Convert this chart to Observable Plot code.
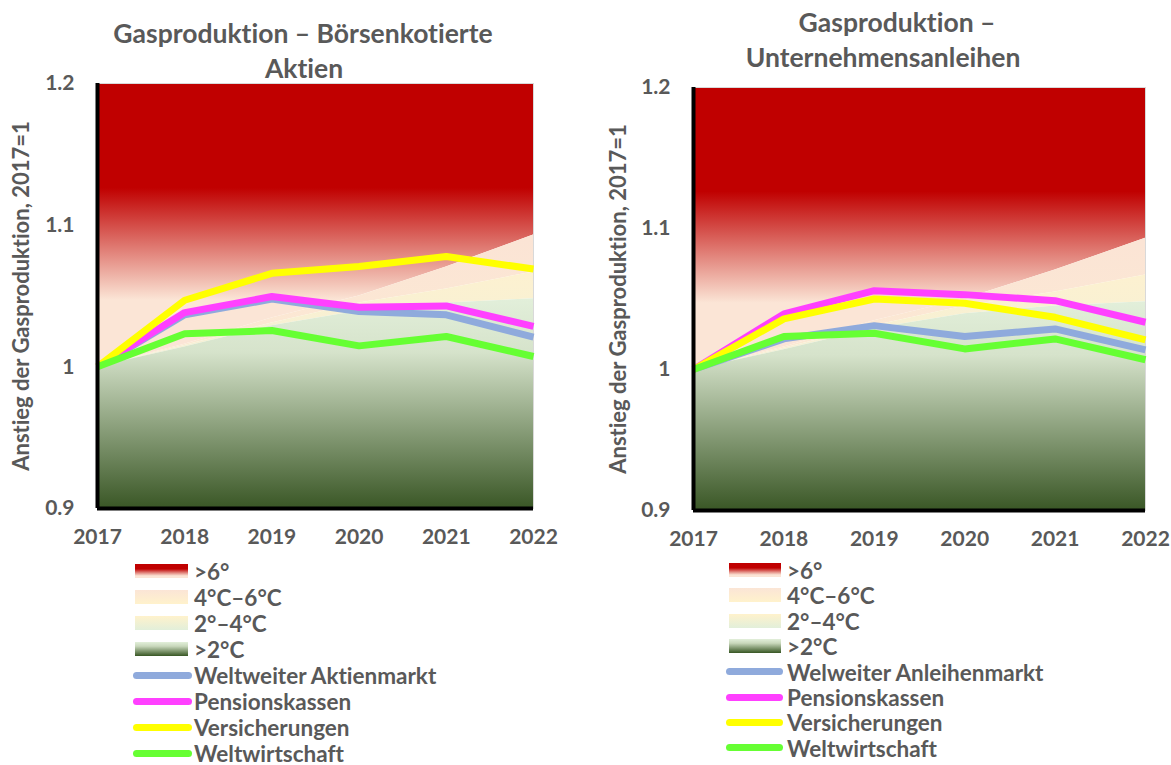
<!DOCTYPE html>
<html><head><meta charset="utf-8">
<script src="https://cdn.jsdelivr.net/npm/d3@7"></script>
<script src="https://cdn.jsdelivr.net/npm/@observablehq/plot@0.6"></script>
<style>
body{margin:0;width:1171px;height:765px;overflow:hidden;background:#fff;font-family:Lato,sans-serif;font-weight:700;color:#595959;position:relative;font-variant-ligatures:none}
svg{font-variant-ligatures:none}
.tl{position:absolute;white-space:nowrap;font-size:26.5px;line-height:30px;transform:translate(-50%,-50%)}
.chart{position:absolute}
.row{position:absolute;white-space:nowrap;font-size:22.5px;line-height:21px;transform:translateY(-50%)}
.sw{position:absolute}
</style></head><body>
<div id="root"></div>
<script>
// ---------- data ----------
const years = [2017, 2018, 2019, 2020, 2021, 2022];
const yDomain = [0.9, 1.2];
const yTicks = [0.9, 1.0, 1.1, 1.2];
const yTickLabels = ["0.9", "1", "1.1", "1.2"];
const yLabel = "Anstieg der Gasproduktion, 2017=1";

// scenario band upper bounds
const band2C = [1, 1.014, 1.029, 1.0395, 1.045, 1.048];
const band4C = [1, 1.015, 1.031, 1.045, 1.055, 1.067];
const band6C = [1, 1.016, 1.0345, 1.050, 1.0705, 1.093];
const bandLabels = [">6°", "4°C–6°C", "2°–4°C", ">2°C"];

const seriesColors = ["#8FAADC", "#FF40FF", "#FFFF00", "#66FF33"];

// left chart: Börsenkotierte Aktien
const leftTitle = ["Gasproduktion – Börsenkotierte", "Aktien"];
const leftNames = ["Weltweiter Aktienmarkt", "Pensionskassen", "Versicherungen", "Weltwirtschaft"];
const leftMarkt   = [1, 1.0367, 1.0478, 1.039, 1.0367, 1.021];
const leftPension = [1, 1.0383, 1.0496, 1.042, 1.043, 1.0285];
const leftVersich = [1, 1.047, 1.066, 1.0708, 1.0779, 1.069];
const leftWelt    = [1, 1.0233, 1.0256, 1.0148, 1.0214, 1.0073];

// right chart: Unternehmensanleihen
const rightTitle = ["Gasproduktion –", "Unternehmensanleihen"];
const rightNames = ["Welweiter Anleihenmarkt", "Pensionskassen", "Versicherungen", "Weltwirtschaft"];
const rightMarkt   = [1, 1.0217, 1.0311, 1.0234, 1.0288, 1.0139];
const rightPension = [1, 1.0394, 1.0559, 1.0531, 1.0488, 1.0335];
const rightVersich = [1, 1.0359, 1.050, 1.047, 1.037, 1.021];
const rightWelt    = [1, 1.0234, 1.0257, 1.0146, 1.0217, 1.0069];

// ---------- build ----------
const bandTable = years.map((year, i) => ({year, c2: band2C[i], c4: band4C[i], c6: band6C[i], lo: yDomain[0], hi: yDomain[1]}));

function longTable(names, arrays) {
  const out = [];
  names.forEach((name, s) => years.forEach((year, i) => out.push({name, year, value: arrays[s][i]})));
  return out;
}

const NS = "http://www.w3.org/2000/svg";
function gradientDefs(prefix) {
  return (index, scales) => {
    const defs = document.createElementNS(NS, "defs");
    const y = scales.y;
    const specs = {
      red: [[1.2, "#C00000"], [1.126, "#C00000"], [1.047, "#FBE5D6"], [0.9, "#FBE5D6"]],
      b46: [[1.09, "#FBE4D5"], [1.0, "#FCEAD3"]],
      b24: [[1.07, "#FDF1D0"], [1.0, "#F3F0D6"]],
      green: [[1.2, "#E2EFDA"], [1.048, "#E2EFDA"], [1.01, "#D6E3CB"], [0.9, "#3A5726"]]
    };
    const y0 = y(1.2), y1 = y(0.9);
    for (const [k, stops] of Object.entries(specs)) {
      const g = document.createElementNS(NS, "linearGradient");
      g.setAttribute("id", prefix + k);
      g.setAttribute("gradientUnits", "userSpaceOnUse");
      g.setAttribute("x1", 0); g.setAttribute("x2", 0);
      g.setAttribute("y1", y0); g.setAttribute("y2", y1);
      for (const [v, c] of stops) {
        const s = document.createElementNS(NS, "stop");
        s.setAttribute("offset", (y(v) - y0) / (y1 - y0));
        s.setAttribute("stop-color", c);
        g.appendChild(s);
      }
      defs.appendChild(g);
    }
    return defs;
  };
}

function makeChart(cfg) {
  const table = longTable(cfg.names, cfg.series);
  const chart = Plot.plot({
    width: cfg.width, height: cfg.height,
    marginLeft: cfg.ml, marginRight: cfg.mr, marginTop: cfg.mt, marginBottom: cfg.mb,
    style: {fontFamily: "Lato, sans-serif", fontWeight: 700, color: "#595959", background: "transparent", overflow: "visible"},
    x: {domain: [years[0], years[years.length - 1]]},
    y: {domain: yDomain},
    color: {domain: cfg.names, range: seriesColors},
    marks: [
      gradientDefs(cfg.id),
      Plot.areaY(bandTable, {x: "year", y1: "c6", y2: "hi", fill: `url(#${cfg.id}red)`}),
      Plot.areaY(bandTable, {x: "year", y1: "c4", y2: "c6", fill: `url(#${cfg.id}b46)`}),
      Plot.areaY(bandTable, {x: "year", y1: "c2", y2: "c4", fill: `url(#${cfg.id}b24)`}),
      Plot.areaY(bandTable, {x: "year", y1: "lo", y2: "c2", fill: `url(#${cfg.id}green)`}),
      Plot.frame({stroke: "#D9D9D9", strokeWidth: 1}),
      Plot.line(table, {x: "year", y: "value", z: "name", stroke: "name", strokeWidth: 7, strokeLinejoin: "round", strokeLinecap: "butt"}),
      Plot.ruleX([years[0]], {stroke: "#000", strokeWidth: 4, y1: yDomain[0], y2: yDomain[1]}),
      Plot.ruleY([yDomain[0]], {stroke: "#000", strokeWidth: 4, x1: years[0], x2: years[years.length - 1]}),
      Plot.axisX({ticks: years, tickFormat: d => String(d), tickSize: 0, tickPadding: cfg.xpad, fontSize: 21, fill: "#595959", label: null}),
      Plot.axisY({ticks: yTicks, tickFormat: (d, i) => yTickLabels[i], tickSize: 0, tickPadding: cfg.ypad, fontSize: 21, fill: "#595959",
                  label: yLabel, labelAnchor: "center", labelArrow: "none", labelOffset: cfg.labelOffset})
    ]
  });
  chart.classList.add("chart");
  chart.style.left = cfg.left + "px";
  chart.style.top = cfg.top + "px";
  chart.querySelectorAll("[aria-label='y-axis label'] text, [aria-label='y-axis label']").forEach(e => e.setAttribute("font-size", 22));
  return chart;
}

const root = document.getElementById("root");

function addTitle(lines, centers, ys) {
  lines.forEach((t, i) => {
    const d = document.createElement("div");
    d.className = "tl"; d.textContent = t;
    d.style.left = centers[i] + "px"; d.style.top = ys[i] + "px";
    root.appendChild(d);
  });
}

function addLegend(names, lg) {
  const swatchGrads = [
    "linear-gradient(#C00000 0%, #C00000 35%, #E48F86 65%, #FBE5D6 85%, #FBE5D6 100%)",
    "linear-gradient(#FBE5D6, #FFF2CC)",
    "linear-gradient(#FFF2CC, #E2EFDA)",
    "linear-gradient(#E2EFDA 0%, #C9D8BC 30%, #375623 100%)"
  ];
  const labels = bandLabels.concat(names);
  labels.forEach((t, i) => {
    const cy = lg.y0 + i * lg.dy;
    const sw = document.createElement("div");
    sw.className = "sw";
    if (i < 4) {
      sw.style.cssText = `left:${lg.rx}px;top:${cy - 7}px;width:${lg.rw}px;height:14px;background:${swatchGrads[i]}`;
    } else {
      sw.style.cssText = `left:${lg.lx}px;top:${cy - 3.5}px;width:${lg.lw}px;height:7px;border-radius:4px;background:${seriesColors[i - 4]}`;
    }
    root.appendChild(sw);
    const d = document.createElement("div");
    d.className = "row"; d.textContent = t;
    d.style.left = lg.tx + "px"; d.style.top = cy + "px";
    root.appendChild(d);
  });
}

addTitle(leftTitle, [303, 304], [33, 68]);
addTitle(rightTitle, [897, 883], [22, 57]);

root.appendChild(makeChart({id: "L", names: leftNames, series: [leftMarkt, leftPension, leftVersich, leftWelt],
  left: 0, top: 75, width: 580, height: 480, ml: 97, mr: 47, mt: 8, mb: 47, xpad: 21, ypad: 23, labelOffset: 84}));
root.appendChild(makeChart({id: "R", names: rightNames, series: [rightMarkt, rightPension, rightVersich, rightWelt],
  left: 590, top: 75, width: 581, height: 480, ml: 103, mr: 26, mt: 12, mb: 45, xpad: 21, ypad: 23, labelOffset: 83}));

addLegend(leftNames, {y0: 571, dy: 26, rx: 135, rw: 53, lx: 133, lw: 59, tx: 194});
addLegend(rightNames, {y0: 570, dy: 25.4, rx: 729, rw: 52, lx: 726, lw: 57, tx: 787});
</script>
</body></html>
